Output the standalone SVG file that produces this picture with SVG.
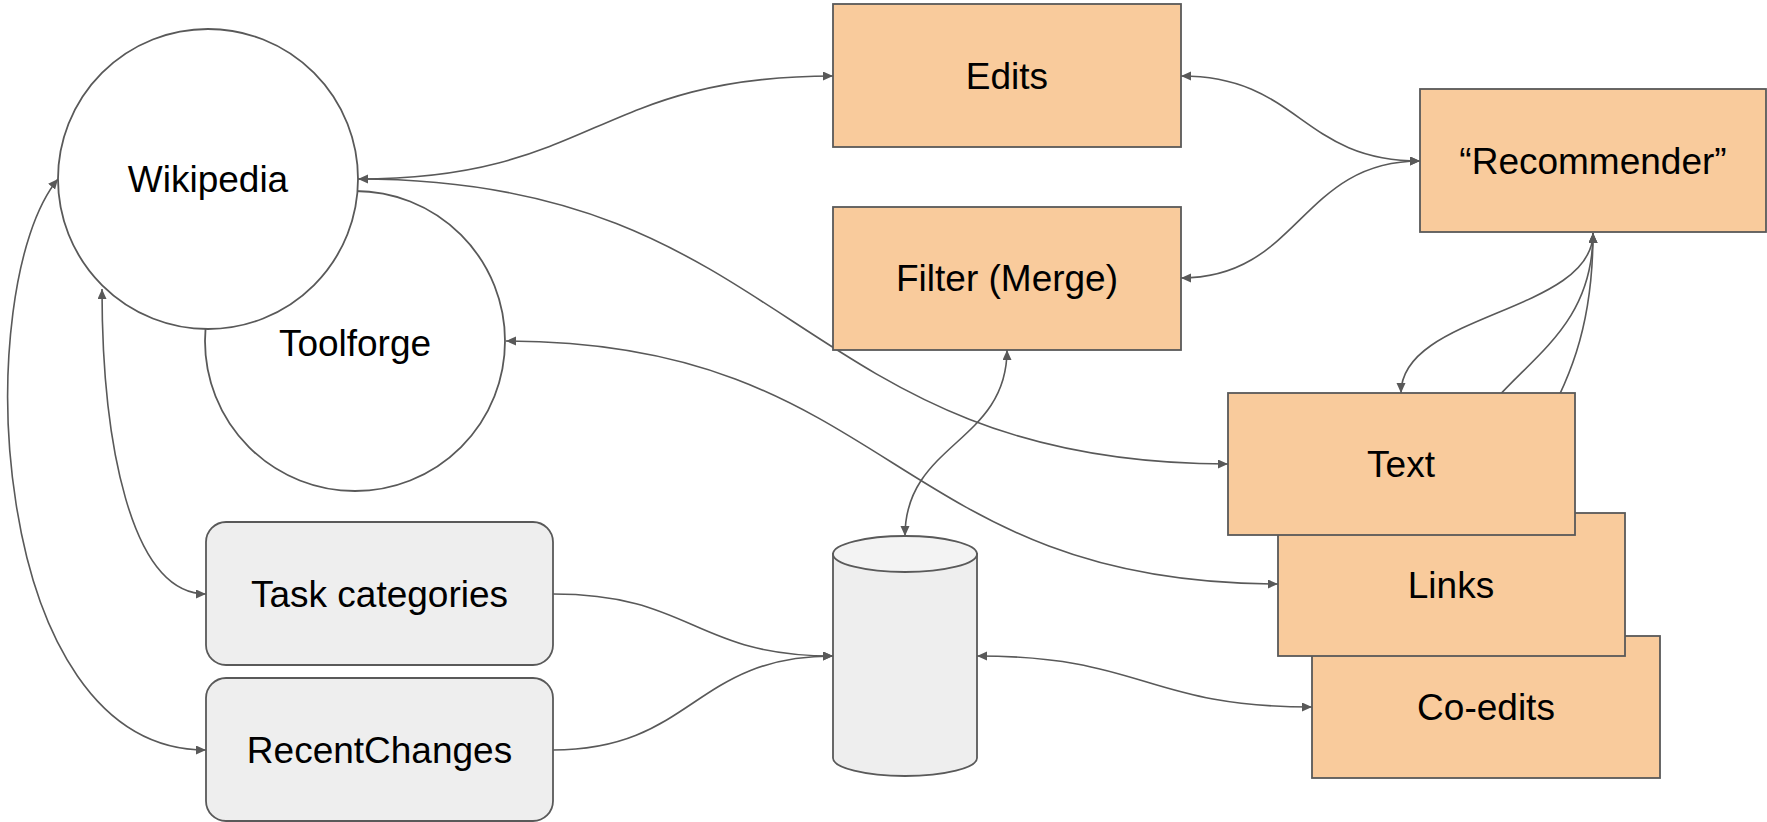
<svg xmlns="http://www.w3.org/2000/svg" width="1767" height="822" viewBox="0 0 1767 822">
<style>
.edge{fill:none;stroke:#595959;stroke-width:1.6}
.box{fill:#f9cb9c;stroke:#595959;stroke-width:1.8}
.gray{fill:#eeeeee;stroke:#595959;stroke-width:1.8}
.circ{fill:#ffffff;stroke:#595959;stroke-width:1.8}
.lbl{font-family:"Liberation Sans",Arial,sans-serif;font-size:37px;fill:#000000;text-anchor:middle}
</style>
<defs>
<marker id="ah" markerUnits="userSpaceOnUse" markerWidth="11" markerHeight="10" refX="10" refY="4.5" orient="auto-start-reverse">
<path d="M0,0 L10,4.5 L0,9 Z" fill="#595959"/>
</marker>
</defs>
<rect width="1767" height="822" fill="#ffffff"/>
<g id="connectors">
<path class="edge" d="M358,179 C595,179 595,76 833,76" marker-end="url(#ah)"/>
<path class="edge" d="M358,179 C793,179 793,464 1228,464" marker-start="url(#ah)" marker-end="url(#ah)"/>
<path class="edge" d="M506,341 C892,341 892,584 1278,584" marker-start="url(#ah)" marker-end="url(#ah)"/>
<path class="edge" d="M1181,76 C1300,76 1300,161 1420,161" marker-start="url(#ah)" marker-end="url(#ah)"/>
<path class="edge" d="M1181,278 C1300,278 1300,161 1420,161" marker-start="url(#ah)" marker-end="url(#ah)"/>
<path class="edge" d="M1593,233 C1593,313 1401,313 1401,393" marker-start="url(#ah)" marker-end="url(#ah)"/>
<path class="edge" d="M1451,513 C1451,372 1593,372 1593,233" marker-end="url(#ah)"/>
<path class="edge" d="M1486,636 C1486,434 1593,434 1593,233" marker-end="url(#ah)"/>
<path class="edge" d="M1007,350 C1007,443 905,443 905,536" marker-start="url(#ah)" marker-end="url(#ah)"/>
<path class="edge" d="M553,594 C693,594 693,656 833,656" marker-end="url(#ah)"/>
<path class="edge" d="M553,750 C693,750 693,656 833,656" marker-end="url(#ah)"/>
<path class="edge" d="M977,656 C1145,656 1145,707 1312,707" marker-start="url(#ah)" marker-end="url(#ah)"/>
<path class="edge" d="M102,289 C102,440 130,594 206,594" marker-start="url(#ah)" marker-end="url(#ah)"/>
<path class="edge" d="M58,179 C-30,285 -15,750 206,750" marker-start="url(#ah)" marker-end="url(#ah)"/>
</g>
<g id="toolforge">
<circle class="circ" cx="355" cy="341" r="150"/>
<text class="lbl" x="355" y="356">Toolforge</text>
</g>
<g id="wikipedia">
<circle class="circ" cx="208" cy="179" r="150"/>
<text class="lbl" x="208" y="192">Wikipedia</text>
</g>
<g id="edits">
<rect class="box" x="833" y="4" width="348" height="143"/>
<text class="lbl" x="1007" y="89">Edits</text>
</g>
<g id="filter">
<rect class="box" x="833" y="207" width="348" height="143"/>
<text class="lbl" x="1007" y="291">Filter (Merge)</text>
</g>
<g id="recommender">
<rect class="box" x="1420" y="89" width="346" height="143"/>
<text class="lbl" x="1593" y="174">“Recommender”</text>
</g>
<g id="coedits">
<rect class="box" x="1312" y="636" width="348" height="142"/>
<text class="lbl" x="1486" y="720">Co-edits</text>
</g>
<g id="links">
<rect class="box" x="1278" y="513" width="347" height="143"/>
<text class="lbl" x="1451" y="598">Links</text>
</g>
<g id="text">
<rect class="box" x="1228" y="393" width="347" height="142"/>
<text class="lbl" x="1401" y="477">Text</text>
</g>
<g id="task-categories">
<rect class="gray" x="206" y="522" width="347" height="143" rx="20" ry="20"/>
<text class="lbl" x="379.5" y="607">Task categories</text>
</g>
<g id="recentchanges">
<rect class="gray" x="206" y="678" width="347" height="143" rx="20" ry="20"/>
<text class="lbl" x="379.5" y="763">RecentChanges</text>
</g>
<g id="database">
<path class="gray" d="M833,554 V758 A72,18 0 0 0 977,758 V554 Z"/>
<ellipse cx="905" cy="554" rx="72" ry="18" fill="#f3f3f3" stroke="#595959" stroke-width="1.8"/>
</g>
</svg>
